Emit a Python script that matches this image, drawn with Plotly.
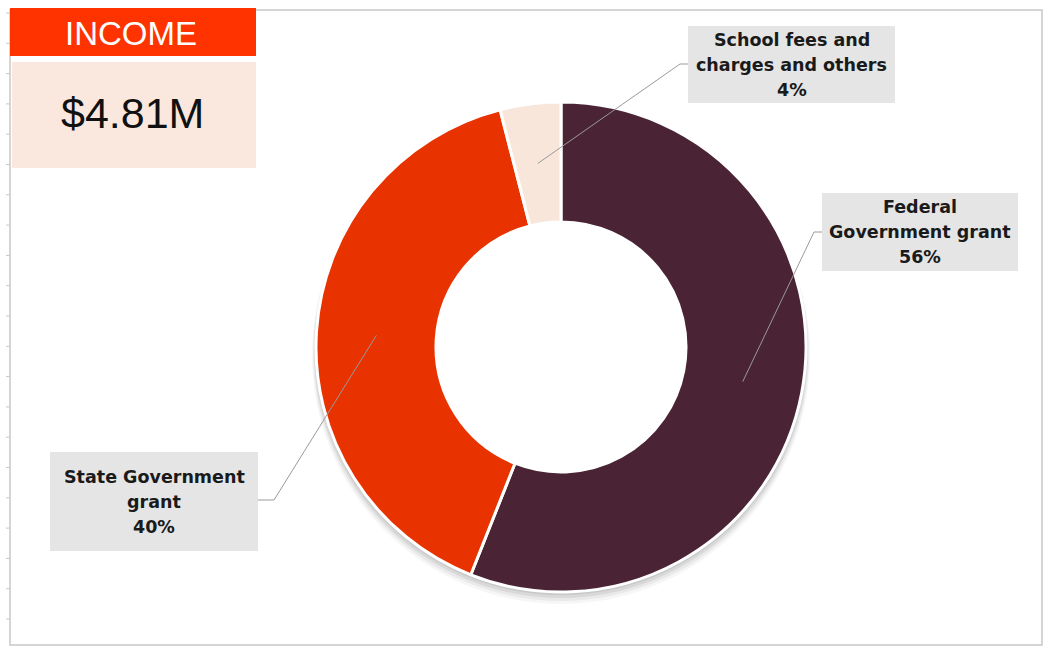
import math
import plotly.graph_objects as go

# ---- data ----
categories = ["Federal Government grant", "State Government grant", "School fees and charges and others"]
values = [56, 40, 4]
label_lines = [["Federal", "Government grant"], ["State Government", "grant"], ["School fees and", "charges and others"]]
colors = ["#4A2434", "#E83300", "#F9E6DB"]
total_text = "$4.81M"
title_text = "INCOME"

W, H = 1043, 647
CX, CY, R, RH = 561, 347, 245, 125

fig = go.Figure()

# hidden pixel-coordinate axes
fig.update_layout(
    width=W, height=H, margin=dict(l=0, r=0, t=0, b=0),
    paper_bgcolor="white", plot_bgcolor="rgba(0,0,0,0)", showlegend=False,
    xaxis=dict(range=[0, W], visible=False, fixedrange=True),
    yaxis=dict(range=[H, 0], visible=False, fixedrange=True),
)
fig.add_trace(go.Scatter(x=[0, W], y=[0, H], mode="markers", marker=dict(opacity=0), hoverinfo="skip"))

def dom(cx, cy, r):
    return dict(x=[(cx - r) / W, (cx + r) / W], y=[(H - cy - r) / H, (H - cy + r) / H])

# soft shadow
for off, extra, a in [(8, 4, 0.035), (6, 3, 0.05), (4, 2, 0.07), (2, 1, 0.08)]:
    rr = R + extra
    fig.add_trace(go.Pie(values=[1], domain=dom(CX, CY + off, rr), hole=(RH + off + 4) / rr,
                         marker=dict(colors=[f"rgba(0,0,0,{a})"], line=dict(width=0)),
                         textinfo="none", hoverinfo="skip", sort=False))

fig.add_trace(go.Pie(
    labels=categories, values=values, domain=dom(CX, CY, R), hole=RH / R,
    sort=False, direction="clockwise", rotation=0,
    marker=dict(colors=colors, line=dict(color="white", width=3)),
    textinfo="none", hovertemplate="%{label}: %{percent}<extra></extra>",
))

shapes = []
annotations = []

# frame
shapes.append(dict(type="rect", xref="x", yref="y", x0=10, y0=10, x1=1042, y1=645,
                   line=dict(color="#C8C8C8", width=1.5), layer="below"))
y = 13
while y < 645:
    shapes.append(dict(type="line", xref="x", yref="y", x0=6, x1=10, y0=y, y1=y,
                       line=dict(color="#C8C8C8", width=1), layer="below"))
    y += 30.3

# INCOME header boxes
shapes.append(dict(type="rect", xref="x", yref="y", x0=10, y0=8, x1=256, y1=56,
                   fillcolor="#FF3300", line=dict(width=0), layer="above"))
shapes.append(dict(type="rect", xref="x", yref="y", x0=12, y0=62, x1=256, y1=168,
                   fillcolor="#FAE8DE", line=dict(width=0), layer="above"))
annotations.append(dict(x=131, y=33, xref="x", yref="y", text=title_text, showarrow=False,
                        font=dict(family="Liberation Sans, Arial", size=33, color="white")))
annotations.append(dict(x=132, y=113, xref="x", yref="y", text=total_text, showarrow=False,
                        font=dict(family="Liberation Sans, Arial", size=43, color="#111111")))

# label boxes: (x0, y0, x1, y1, elbow side)
boxes = [(822, 193, 1018, 271, "left"), (50, 452, 258, 551, "right"), (688, 26, 895, 103, "left")]
tick_y = [232, 500, 64]

total = sum(values)
cum = 0
for i, v in enumerate(values):
    mid = (cum + v / 2) / total * 2 * math.pi
    cum += v
    rm = (R + RH) / 2
    px = CX + rm * math.sin(mid)
    py = CY - rm * math.cos(mid)
    x0, y0, x1, y1, side = boxes[i]
    shapes.append(dict(type="rect", xref="x", yref="y", x0=x0, y0=y0, x1=x1, y1=y1,
                       fillcolor="#E5E5E5", line=dict(width=0), layer="above"))
    ty = tick_y[i]
    if side == "left":
        ex0, ex1 = x0, x0 - 8
    else:
        ex0, ex1 = x1, x1 + 16
    shapes.append(dict(type="line", xref="x", yref="y", x0=ex0, y0=ty, x1=ex1, y1=ty,
                       line=dict(color="#9A9A9A", width=1), layer="above"))
    shapes.append(dict(type="line", xref="x", yref="y", x0=ex1, y0=ty, x1=px, y1=py,
                       line=dict(color="#9A9A9A", width=1), layer="above"))
    lines = label_lines[i] + [f"{round(v / total * 100)}%"]
    cxb = (x0 + x1) / 2
    cyb = (y0 + y1) / 2
    n = len(lines)
    for j, t in enumerate(lines):
        annotations.append(dict(x=cxb, y=cyb + (j - (n - 1) / 2) * 25, xref="x", yref="y",
                                text=f"<b>{t}</b>", showarrow=False,
                                font=dict(family="DejaVu Sans", size=17.5, color="#1A1A1A")))

fig.update_layout(shapes=shapes, annotations=annotations)
fig.write_html("out.html")
